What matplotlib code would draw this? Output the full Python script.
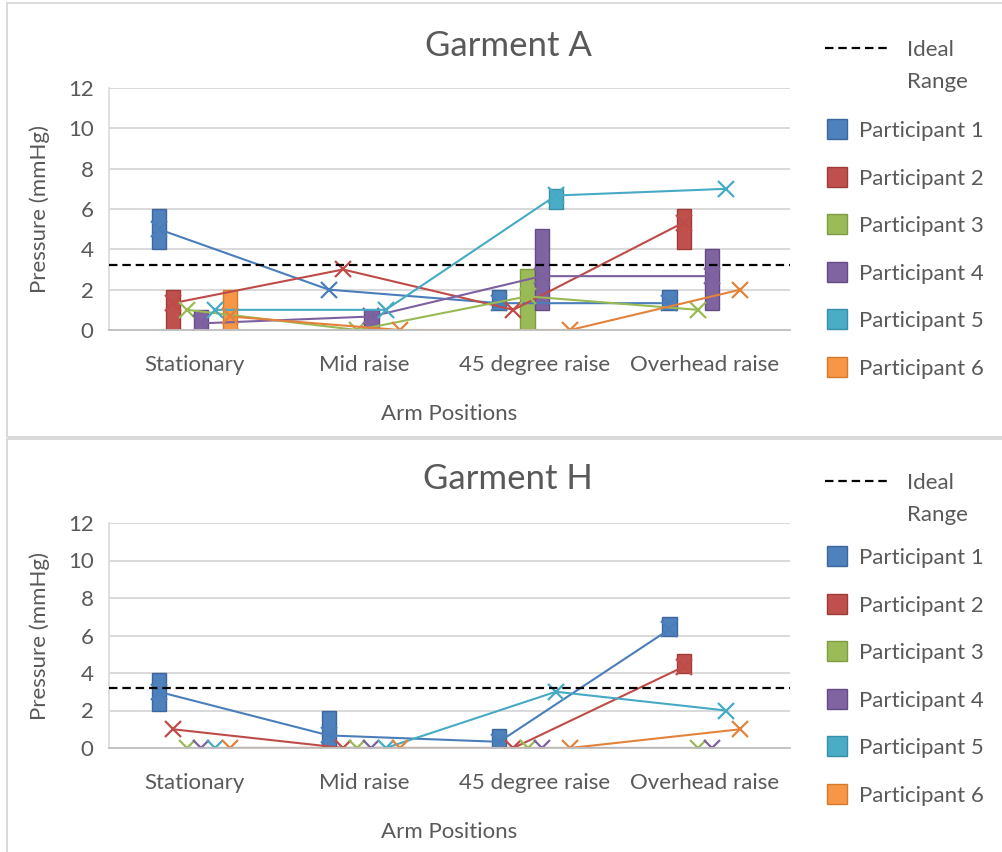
import matplotlib
matplotlib.use("Agg")
import matplotlib.pyplot as plt
from matplotlib.patches import Rectangle
from matplotlib.lines import Line2D
import numpy as np

plt.rcParams['font.family'] = ['Lato', 'DejaVu Sans']

# ---- data ----------------------------------------------------------------
categories = ["Stationary", "Mid raise", "45 degree raise", "Overhead raise"]
participants = ["Participant 1", "Participant 2", "Participant 3",
                "Participant 4", "Participant 5", "Participant 6"]
ideal_pressure = 3.2

# Garment A: per participant, lowest / highest / mean reading at each position
garment_a_low = [[4, 2, 1, 1], [0, 3, 1, 4], [1, 0, 0, 1],
                 [0, 0, 1, 1], [1, 1, 6, 7], [0, 0, 0, 2]]
garment_a_high = [[6, 2, 2, 2], [2, 3, 1, 6], [1, 0, 3, 1],
                  [1, 1, 5, 4], [1, 1, 7, 7], [2, 0, 0, 2]]
garment_a_mean = [[5, 2, 1.33, 1.33], [1.33, 3, 1, 5.33], [1, 0, 1.67, 1],
                  [0.33, 0.67, 2.67, 2.67], [1, 1, 6.67, 7], [0.67, 0, 0, 2]]

# Garment H
garment_h_low = [[2, 0, 0, 6], [1, 0, 0, 4], [0, 0, 0, 0],
                 [0, 0, 0, 0], [0, 0, 3, 2], [0, 0, 0, 1]]
garment_h_high = [[4, 2, 1, 7], [1, 0, 0, 5], [0, 0, 0, 0],
                  [0, 0, 0, 0], [0, 0, 3, 2], [0, 0, 0, 1]]
garment_h_mean = [[3, 0.67, 0.33, 6.33], [1, 0, 0, 4.33], [0, 0, 0, 0],
                  [0, 0, 0, 0], [0, 0, 3, 2], [0, 0, 0, 1]]

# ---- styling -------------------------------------------------------------
fill_colors = ["#4F81BD", "#C0504D", "#9BBB59", "#8064A2", "#4BACC6", "#F79646"]
edge_colors = ["#3B679C", "#9D3B38", "#7E9C42", "#654B86", "#3590A8", "#D47A2C"]
line_colors = ["#4A7EBB", "#BE4B48", "#98B954", "#7D60A0", "#46AAC5", "#E3823A"]
text_color = "#595959"
grid_color = "#D9D9D9"
FS = 16

W_PX, H_PX = 1002, 852
fig = plt.figure(figsize=(W_PX / 100, H_PX / 100), dpi=100)


def fx(px):
    return px / W_PX


def fy(py):
    return 1 - py / H_PX


def draw_panel(title, low, high, mean, plot_top, plot_bottom, dy, legend_dy):
    ax = fig.add_axes([fx(109), fy(plot_bottom), fx(790) - fx(109),
                       fy(plot_top) - fy(plot_bottom)])
    x = np.arange(len(categories))
    bw = 1 / 12
    for i in range(len(participants)):
        off = (i - 2.5) * bw
        lo = np.array(low[i], float)
        hi = np.array(high[i], float)
        keep = hi > lo
        ax.bar(x[keep] + off, (hi - lo)[keep], bottom=lo[keep], width=bw,
               color=fill_colors[i], edgecolor=edge_colors[i], linewidth=1.0,
               zorder=2)
        ax.plot(x + off, mean[i], color=line_colors[i], lw=1.5, marker='x',
                ms=11, mew=1.6, zorder=3)
    ax.axhline(ideal_pressure, color='black', lw=1.6, ls=(0, (3.8, 2.2)),
               zorder=5)

    ax.set_xlim(-0.5, 3.5)
    ax.set_ylim(0, 12)
    ax.set_yticks(range(0, 13, 2))
    ax.set_xticks(x)
    ax.set_xticklabels(categories)
    ax.grid(axis='y', color=grid_color, lw=1.4)
    ax.set_axisbelow(True)
    ax.spines['top'].set_visible(False)
    ax.spines['right'].set_visible(False)
    ax.spines['left'].set_color(grid_color)
    ax.spines['left'].set_linewidth(1.2)
    ax.spines['bottom'].set_color('#BFBFBF')
    ax.spines['bottom'].set_linewidth(1.3)
    ax.spines['bottom'].set_zorder(4)
    ax.tick_params(length=0, colors=text_color, labelsize=FS)
    ax.tick_params(axis='y', pad=11)
    ax.tick_params(axis='x', pad=18)
    ax.set_xlabel("Arm Positions", color=text_color, fontsize=FS, labelpad=21)
    ax.set_ylabel("Pressure (mmHg)", color=text_color, fontsize=FS,
                  labelpad=13)

    fig.text(fx(508), fy(46 + dy), title, ha='center', va='center',
             fontsize=25, color=text_color)

    # legend
    fig.add_artist(Line2D([fx(825), fx(888)], [fy(48 + dy), fy(48 + dy)],
                          color='black', lw=1.6, ls=(0, (3.8, 2.2))))
    fig.text(fx(907), fy(50 + dy), "Ideal", ha='left', va='center',
             fontsize=FS, color=text_color)
    fig.text(fx(907), fy(82 + dy), "Range", ha='left', va='center',
             fontsize=FS, color=text_color)
    for i, name in enumerate(participants):
        yc = 129 + 47.6 * i + legend_dy
        fig.add_artist(Rectangle((fx(827), fy(yc + 10)), fx(20), fy(0) - fy(20),
                                 facecolor=fill_colors[i],
                                 edgecolor=edge_colors[i], lw=1.0,
                                 transform=fig.transFigure))
        fig.text(fx(859), fy(yc + 2), name, ha='left', va='center',
                 fontsize=FS, color=text_color)
    return ax


# chart frames
fig.add_artist(Rectangle((fx(7), fy(437)), fx(1010) - fx(7), fy(3) - fy(437),
                         facecolor='none', edgecolor=grid_color, lw=1.4,
                         transform=fig.transFigure))
fig.add_artist(Rectangle((fx(7), fy(860)), fx(1010) - fx(7), fy(439) - fy(860),
                         facecolor='none', edgecolor=grid_color, lw=1.4,
                         transform=fig.transFigure))

ax_a = draw_panel("Garment A", garment_a_low, garment_a_high, garment_a_mean,
                  88, 330, 0, 0)
ax_h = draw_panel("Garment H", garment_h_low, garment_h_high, garment_h_mean,
                  523, 748, 433, 427)

fig.savefig("out.png", dpi=100, facecolor='white')
